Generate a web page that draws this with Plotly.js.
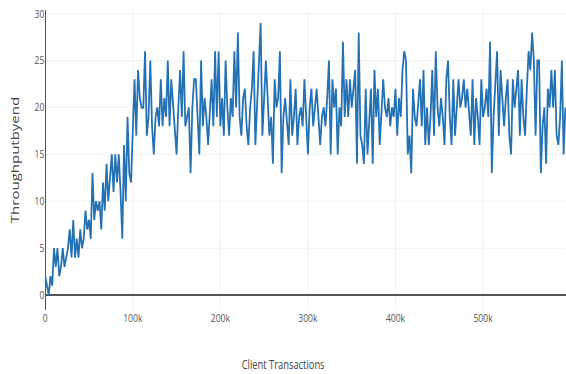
<!DOCTYPE html>
<html>
<head>
<meta charset="utf-8">
<script src="https://cdn.plot.ly/plotly-3.0.1.min.js"></script>
<style>
  html, body { margin: 0; padding: 0; background: #fff; }
  #wrap { width: 566px; height: 374px; overflow: hidden; position: relative; }
  #chart { width: 726px; height: 374px; transform: scaleX(0.7796); transform-origin: 0 0; }
</style>
</head>
<body>
<div id="wrap"><div id="chart"></div></div>
<script>
// Client transactions (x) sampled every 2000
const clientTransactions = [
  0,2000,4000,6000,8000,10000,12000,14000,16000,18000,
  20000,22000,24000,26000,28000,30000,32000,34000,36000,38000,
  40000,42000,44000,46000,48000,50000,52000,54000,56000,58000,
  60000,62000,64000,66000,68000,70000,72000,74000,76000,78000,
  80000,82000,84000,86000,88000,90000,92000,94000,96000,98000,
  100000,102000,104000,106000,108000,110000,112000,114000,116000,118000,
  120000,122000,124000,126000,128000,130000,132000,134000,136000,138000,
  140000,142000,144000,146000,148000,150000,152000,154000,156000,158000,
  160000,162000,164000,166000,168000,170000,172000,174000,176000,178000,
  180000,182000,184000,186000,188000,190000,192000,194000,196000,198000,
  200000,202000,204000,206000,208000,210000,212000,214000,216000,218000,
  220000,222000,224000,226000,228000,230000,232000,234000,236000,238000,
  240000,242000,244000,246000,248000,250000,252000,254000,256000,258000,
  260000,262000,264000,266000,268000,270000,272000,274000,276000,278000,
  280000,282000,284000,286000,288000,290000,292000,294000,296000,298000,
  300000,302000,304000,306000,308000,310000,312000,314000,316000,318000,
  320000,322000,324000,326000,328000,330000,332000,334000,336000,338000,
  340000,342000,344000,346000,348000,350000,352000,354000,356000,358000,
  360000,362000,364000,366000,368000,370000,372000,374000,376000,378000,
  380000,382000,384000,386000,388000,390000,392000,394000,396000,398000,
  400000,402000,404000,406000,408000,410000,412000,414000,416000,418000,
  420000,422000,424000,426000,428000,430000,432000,434000,436000,438000,
  440000,442000,444000,446000,448000,450000,452000,454000,456000,458000,
  460000,462000,464000,466000,468000,470000,472000,474000,476000,478000,
  480000,482000,484000,486000,488000,490000,492000,494000,496000,498000,
  500000,502000,504000,506000,508000,510000,512000,514000,516000,518000,
  520000,522000,524000,526000,528000,530000,532000,534000,536000,538000,
  540000,542000,544000,546000,548000,550000,552000,554000,556000,558000,
  560000,562000,564000,566000,568000,570000,572000,574000,576000,578000,
  580000,582000,584000,586000,588000,590000,592000,594000
];

// Throughput by end
const throughputByEnd = [
  // 0 - 100k
  2,1,0,2,1, 5,3,5,2,3, 5,3,4,5,7, 4,8,4,6,4, 7,5,6,9,7,
  8,6,13,8,10, 9,10,7,12,9, 14,10,13,15,11, 15,12,15,11,6, 16,10,19,13,12, 18,
  // 102k - 170k
  23,17,24,21,20, 20,26,17,19,25, 18,15,19,20,18, 23,18,21,19,25,
  18,23,20,17,15, 20,24,19,26,18, 19,20,13,20,23,
  // 172k - 250k
  23,19,15,25,18, 21,19,16,20,23, 18,26,19,26,18, 21,17,25,20,17,
  21,19,26,20,28, 19,17,21,22,18, 16,20,22,26,16, 20,24,29,17,21,
  // 252k - 340k
  25,21,17,19,14, 23,20,21,26,13, 19,21,18,16,23, 17,19,22,16,19,
  20,18,23,19,15, 20,22,18,20,22, 19,16,19,20,18, 21,25,15,23,20,
  22,15,20,18,27,
  // 342k - 422k
  19,23,19,23,20, 22,24,14,28,17, 16,14,22,15,19, 22,14,24,19,22,
  16,20,23,20,19, 21,18,20,19,22, 17,21,19,24,26, 25,15,17,13,22, 19,
  // 424k - 510k
  18,21,23,18,24, 16,20,16,19,24, 17,26,20,18,21, 19,16,23,25,19,
  16,23,17,20,23, 20,21,23,20,22, 19,17,23,16,21, 19,16,23,19,20,
  22,19,27,13,
  // 512k - 594k
  19,22,26,17,24, 21,18,21,23,17, 15,23,20,22,24, 17,23,19,17,22,
  26,24,28,25,17, 25,25,13,18,20, 14,22,20,24,20, 24,17,16,19,25, 15,20
];

const xTickVals = [0, 100000, 200000, 300000, 400000, 500000];
const xTickText = ['0', '100k', '200k', '300k', '400k', '500k'];
const yTickVals = [0, 5, 10, 15, 20, 25, 30];
const xTitleText = 'Client Transactions';
const yTitleText = 'Throughputbyend';

const trace = {
  x: clientTransactions,
  y: throughputByEnd,
  type: 'scatter',
  mode: 'lines',
  line: { color: '#2471b3', width: 2.3 },
  hoverinfo: 'skip'
};

const layout = {
  width: 726,
  height: 374,
  margin: { l: 58, r: 0, t: 10, b: 64, pad: 0 },
  paper_bgcolor: '#ffffff',
  plot_bgcolor: '#ffffff',
  showlegend: false,
  font: { family: 'Open Sans, sans-serif', size: 11, color: '#444' },
  xaxis: {
    range: [0, 594700],
    tickvals: xTickVals,
    ticktext: xTickText,
    showgrid: true,
    gridcolor: '#eeeeee',
    zeroline: true,
    zerolinecolor: '#555555',
    zerolinewidth: 1.3,
    showline: false,
    ticks: '',
    tickfont: { size: 11, color: '#555' }
  },
  yaxis: {
    range: [-1.6, 30.4],
    tickvals: yTickVals,
    showgrid: true,
    gridcolor: '#eeeeee',
    zeroline: true,
    zerolinecolor: '#555555',
    zerolinewidth: 2,
    showline: false,
    ticks: '',
    tickfont: { size: 11, color: '#555' },
    title: { text: yTitleText, font: { size: 15, color: '#444' }, standoff: 15 }
  },
  annotations: [{
    text: xTitleText,
    xref: 'paper', yref: 'paper',
    x: 0.4566, y: -0.18,
    xanchor: 'center', yanchor: 'middle',
    showarrow: false,
    font: { size: 12, color: '#444' }
  }]
};

Plotly.newPlot('chart', [trace], layout, { staticPlot: true, displayModeBar: false });
</script>
</body>
</html>
